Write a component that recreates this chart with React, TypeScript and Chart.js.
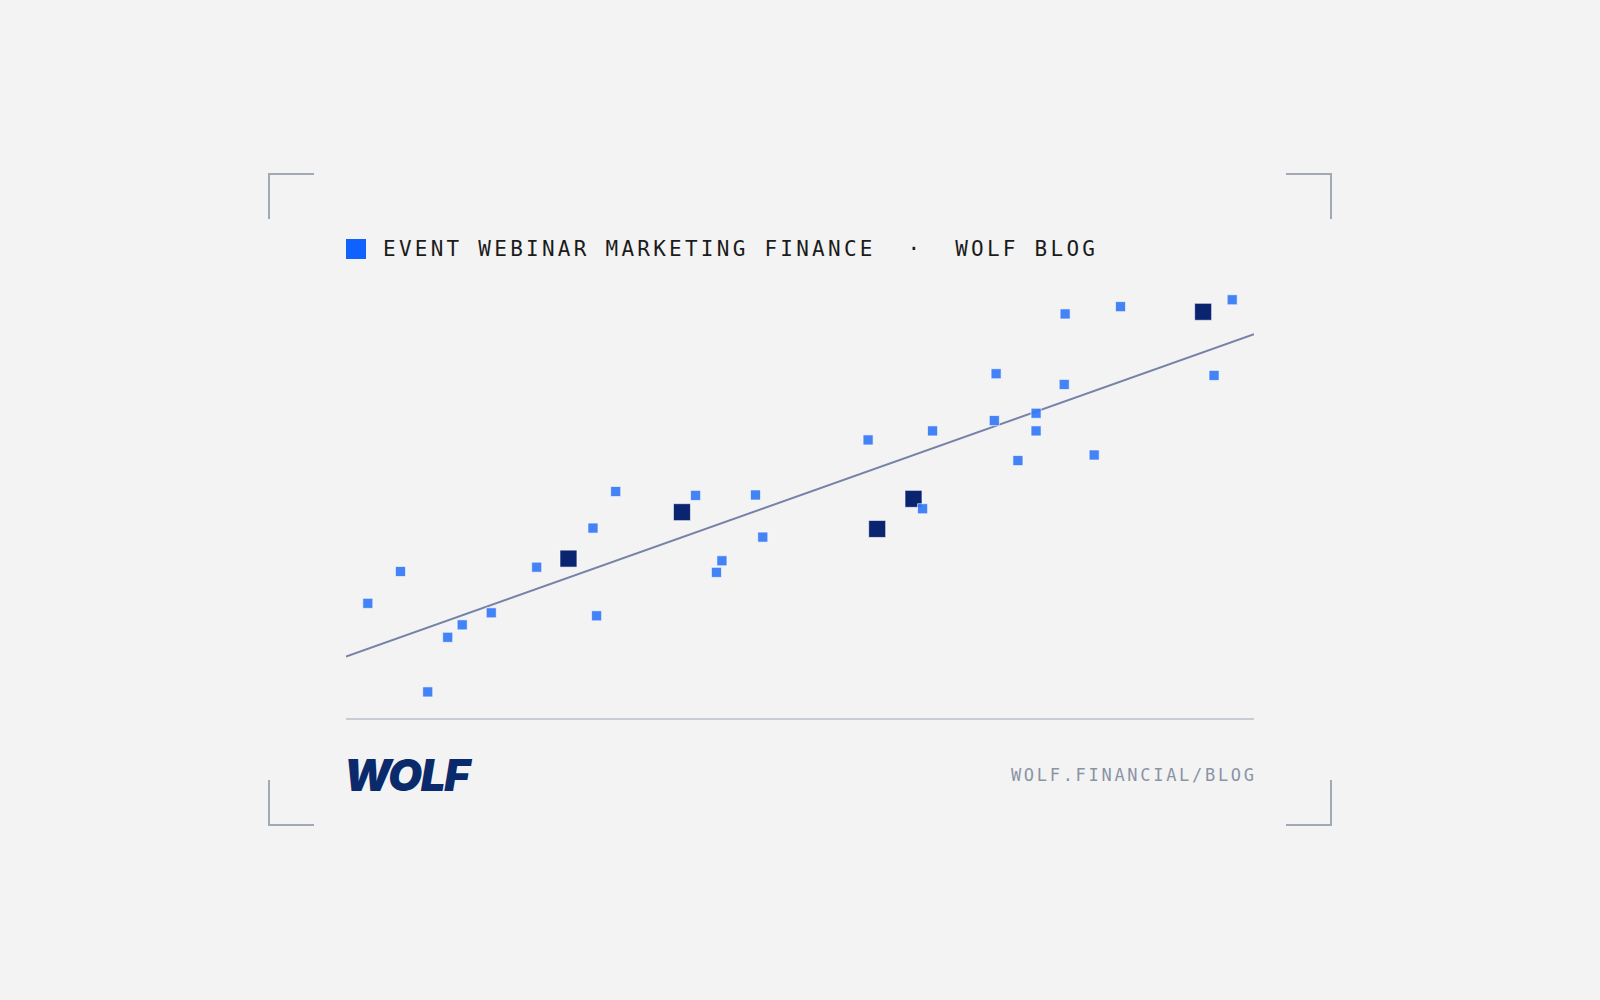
import { useEffect, useRef } from "react";
import { Chart, registerables } from "chart.js";

Chart.register(...registerables);

// regular observations (light blue squares)
const sampleX = [2.4, 6.0, 9.0, 11.2, 12.8, 16.0, 21.0, 27.6, 27.2, 29.7, 38.5, 41.4, 40.8, 45.1, 45.9, 57.5, 63.5, 64.6, 71.6, 71.4, 74.0, 76.0, 76.0, 79.1, 79.2, 82.4, 85.3, 95.6, 97.6];
const sampleY = [26.9, 34.3, 6.3, 19.0, 21.9, 24.7, 35.3, 24.0, 44.4, 52.9, 52.0, 36.8, 34.1, 52.1, 42.3, 64.9, 48.9, 67.0, 80.3, 69.4, 60.1, 71.1, 67.0, 77.8, 94.2, 61.4, 95.9, 79.9, 97.5];

// highlighted observations (large navy squares)
const keyX = [24.5, 37.0, 58.5, 62.5, 94.4];
const keyY = [37.3, 48.1, 44.2, 51.2, 94.7];

// trend line end points
const trendX = [0, 100];
const trendY = [14.5, 89.5];

const toPoints = (xs: number[], ys: number[]) => xs.map((x, i) => ({ x, y: ys[i] }));

function ScatterChart() {
    const canvasRef = useRef<HTMLCanvasElement | null>(null);

    useEffect(() => {
        if (!canvasRef.current) {
            return;
        }

        const chart = new Chart(canvasRef.current, {
            type: "scatter",
            data: {
                datasets: [
                    {
                        label: "Samples",
                        data: toPoints(sampleX, sampleY),
                        pointStyle: "rect",
                        pointRadius: 7.1,
                        pointHoverRadius: 7.1,
                        backgroundColor: "rgba(52, 121, 246, 0.92)",
                        borderColor: "rgba(255, 255, 255, 0.6)",
                        borderWidth: 1,
                        clip: false,
                    },
                    {
                        label: "Key",
                        data: toPoints(keyX, keyY),
                        pointStyle: "rect",
                        pointRadius: 12,
                        pointHoverRadius: 12,
                        backgroundColor: "#0B2470",
                        borderColor: "rgba(255, 255, 255, 0.6)",
                        borderWidth: 1,
                        clip: false,
                    },
                    {
                        type: "line",
                        label: "Trend",
                        data: toPoints(trendX, trendY),
                        showLine: true,
                        borderColor: "#7782A9",
                        borderWidth: 2,
                        pointRadius: 0,
                        fill: false,
                        clip: false,
                    },
                ],
            },
            options: {
                animation: false,
                responsive: true,
                maintainAspectRatio: false,
                layout: { autoPadding: false, padding: { top: 0, left: 0, right: 0, bottom: 2 } },
                plugins: {
                    legend: { display: false },
                    tooltip: { enabled: false },
                },
                scales: {
                    x: {
                        type: "linear",
                        min: 0,
                        max: 100,
                        grid: { display: false, drawTicks: false },
                        ticks: { display: false },
                        border: { display: true, color: "#C8CCD9", width: 2 },
                    },
                    y: {
                        type: "linear",
                        min: 0,
                        max: 100,
                        display: false,
                    },
                },
            },
        });

        return () => chart.destroy();
    }, []);

    return (
        <div style={{ position: "absolute", left: 346, top: 289, width: 908, height: 432 }}>
            <canvas ref={canvasRef} />
        </div>
    );
}

const bracket = "2px solid #A1A9B5";

export default function App() {
    const mono = "'DejaVu Sans Mono', monospace";

    return (
        <div
            style={{
                position: "fixed",
                left: 0,
                top: 0,
                width: 1600,
                height: 1000,
                background: "#F3F3F3",
                overflow: "hidden",
            }}
        >
            {/* corner brackets */}
            <div style={{ position: "absolute", left: 268, top: 173, width: 44, height: 44, borderTop: bracket, borderLeft: bracket }} />
            <div style={{ position: "absolute", left: 1286, top: 173, width: 44, height: 44, borderTop: bracket, borderRight: bracket }} />
            <div style={{ position: "absolute", left: 268, top: 780, width: 44, height: 44, borderBottom: bracket, borderLeft: bracket }} />
            <div style={{ position: "absolute", left: 1286, top: 780, width: 44, height: 44, borderBottom: bracket, borderRight: bracket }} />

            {/* header */}
            <div style={{ position: "absolute", left: 346, top: 239, width: 20, height: 20, background: "#0F62FE" }} />
            <div
                style={{
                    position: "absolute",
                    left: 383,
                    top: 239,
                    fontFamily: mono,
                    fontSize: 21,
                    lineHeight: 1,
                    letterSpacing: 3.25,
                    color: "#1B1B1B",
                    whiteSpace: "pre",
                }}
            >
                {"EVENT WEBINAR MARKETING FINANCE  ·  WOLF BLOG"}
            </div>

            <ScatterChart />

            {/* footer */}
            <div
                style={{
                    position: "absolute",
                    left: 344,
                    top: 753,
                    fontFamily: "Inter, 'Liberation Sans', sans-serif",
                    fontWeight: 900,
                    fontStyle: "italic",
                    fontSize: 44,
                    lineHeight: 1,
                    letterSpacing: -1.5,
                    color: "#0A2A6C",
                }}
            >
                WOLF
            </div>
            <div
                style={{
                    position: "absolute",
                    right: 1600 - 1254,
                    top: 767,
                    marginRight: -2.7,
                    fontFamily: mono,
                    fontSize: 17,
                    lineHeight: 1,
                    letterSpacing: 2.7,
                    color: "#8B93A5",
                    whiteSpace: "pre",
                }}
            >
                WOLF.FINANCIAL/BLOG
            </div>
        </div>
    );
}
